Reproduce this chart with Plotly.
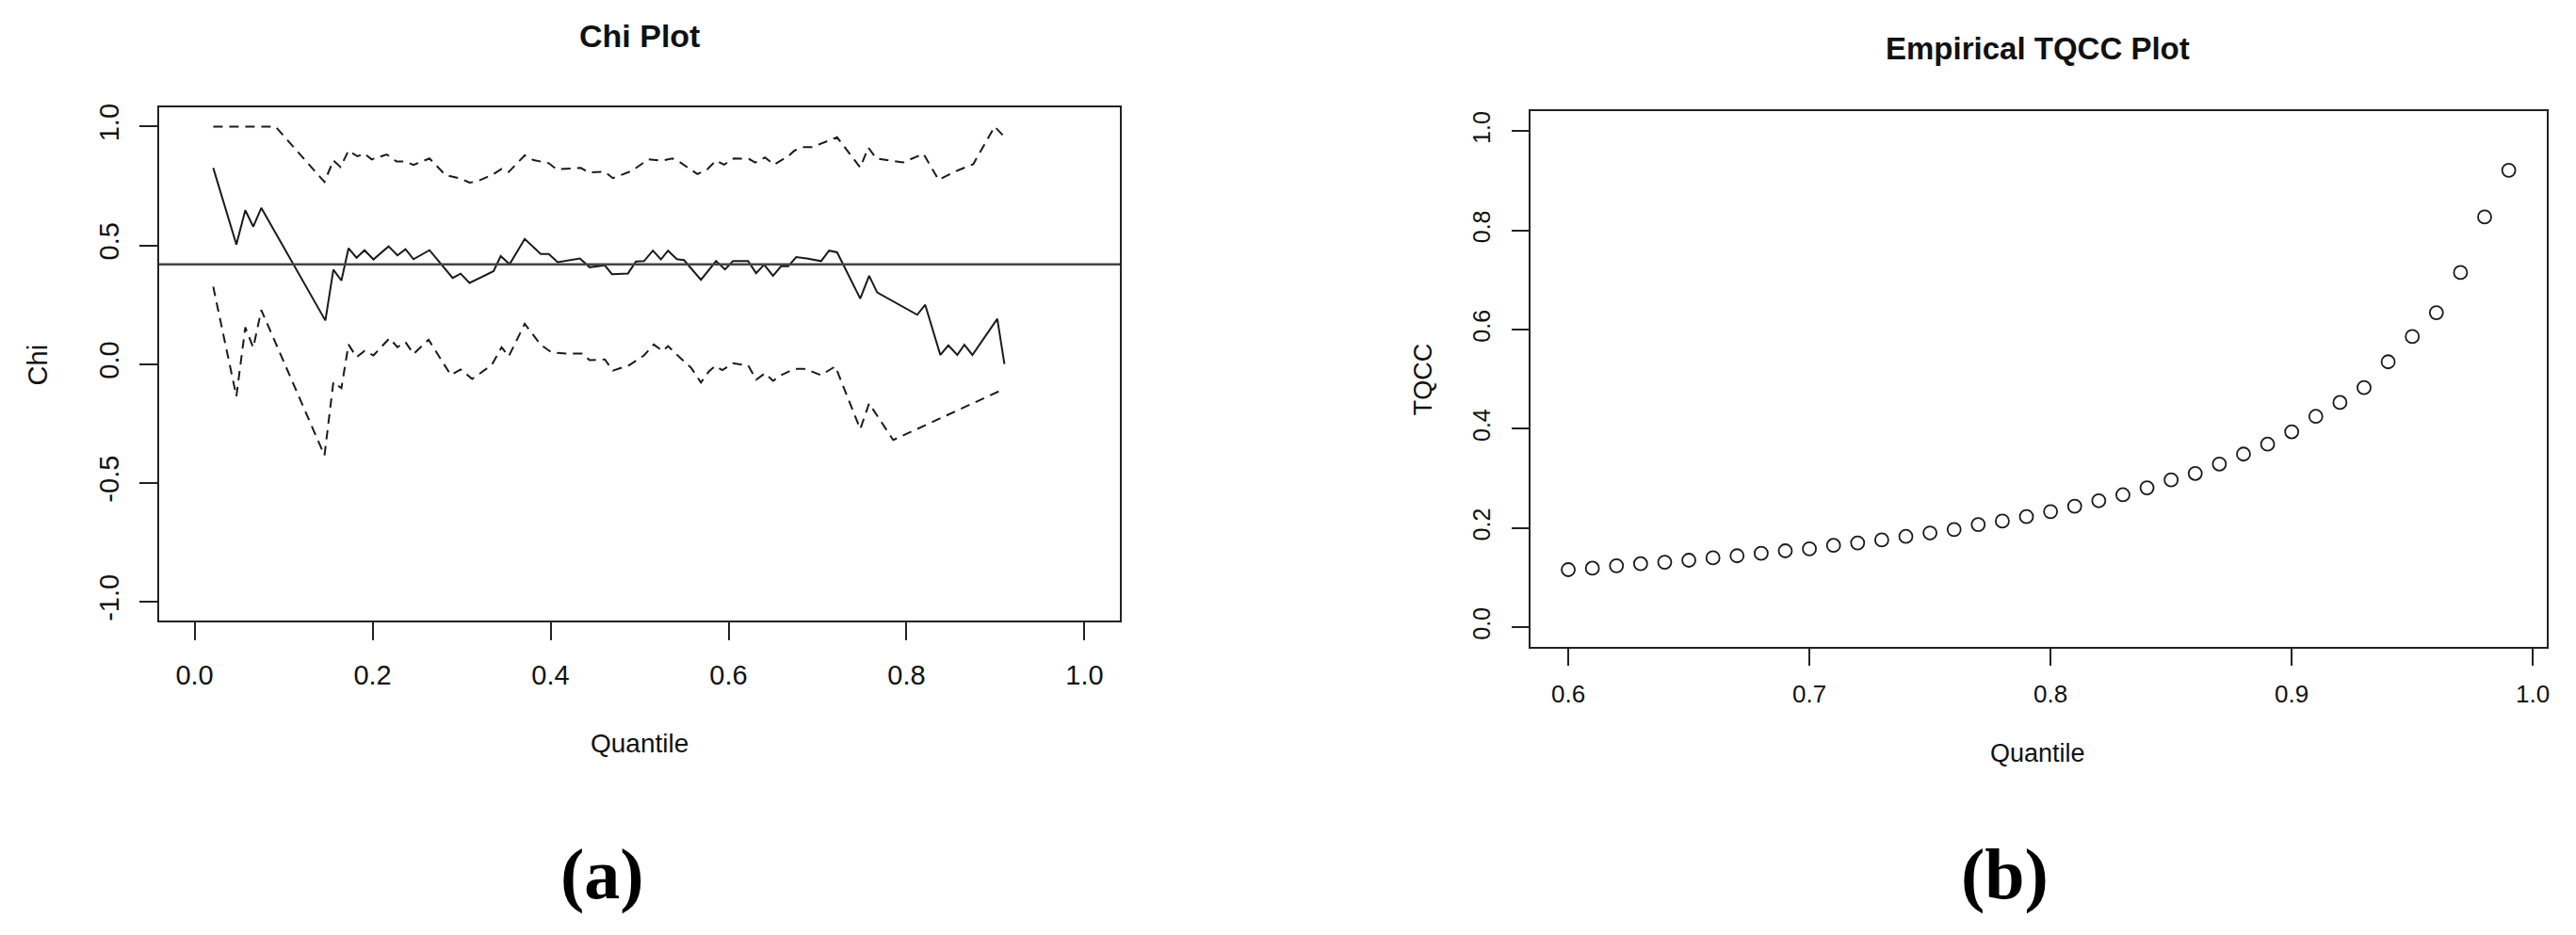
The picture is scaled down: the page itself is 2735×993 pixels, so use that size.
import plotly.graph_objects as go

# ---------------- Chi plot data ----------------
chi_x = [0.021, 0.047, 0.057, 0.066, 0.075, 0.147, 0.156, 0.165, 0.173, 0.182,
         0.191, 0.201, 0.218, 0.228, 0.237, 0.246, 0.264, 0.290, 0.299, 0.309,
         0.336, 0.344, 0.354, 0.371, 0.389, 0.398, 0.408, 0.433, 0.444, 0.461,
         0.469, 0.487, 0.496, 0.505, 0.515, 0.524, 0.532, 0.542, 0.550, 0.569,
         0.586, 0.596, 0.605, 0.622, 0.631, 0.640, 0.650, 0.659, 0.667, 0.676,
         0.688, 0.704, 0.713, 0.722, 0.748, 0.758, 0.767, 0.812, 0.821, 0.838,
         0.847, 0.857, 0.865, 0.874, 0.902, 0.910]
chi_y = [0.826, 0.504, 0.648, 0.579, 0.658, 0.184, 0.398, 0.352, 0.488, 0.448,
         0.480, 0.441, 0.496, 0.458, 0.484, 0.442, 0.480, 0.363, 0.381, 0.342,
         0.392, 0.455, 0.421, 0.527, 0.464, 0.464, 0.429, 0.445, 0.408, 0.416,
         0.379, 0.382, 0.432, 0.434, 0.478, 0.441, 0.478, 0.442, 0.438, 0.355,
         0.434, 0.399, 0.434, 0.434, 0.383, 0.419, 0.372, 0.412, 0.412, 0.451,
         0.445, 0.434, 0.478, 0.471, 0.276, 0.372, 0.302, 0.208, 0.250, 0.039,
         0.079, 0.039, 0.082, 0.039, 0.191, 0.001]

upper_x = [0.021, 0.091, 0.146, 0.156, 0.164, 0.173, 0.183, 0.191, 0.199, 0.216,
           0.227, 0.237, 0.246, 0.264, 0.282, 0.300, 0.309, 0.318, 0.336, 0.345,
           0.353, 0.371, 0.381, 0.398, 0.407, 0.425, 0.434, 0.443, 0.461, 0.470,
           0.491, 0.510, 0.526, 0.537, 0.546, 0.565, 0.576, 0.586, 0.595, 0.606,
           0.623, 0.630, 0.641, 0.651, 0.667, 0.674, 0.685, 0.694, 0.722, 0.748,
           0.757, 0.766, 0.796, 0.819, 0.836, 0.856, 0.875, 0.899, 0.910]
upper_y = [1.000, 1.000, 0.767, 0.858, 0.830, 0.899, 0.875, 0.886, 0.862, 0.883,
           0.853, 0.853, 0.839, 0.866, 0.796, 0.780, 0.764, 0.770, 0.800, 0.822,
           0.809, 0.879, 0.859, 0.846, 0.820, 0.824, 0.826, 0.807, 0.810, 0.783,
           0.813, 0.862, 0.857, 0.866, 0.849, 0.800, 0.820, 0.857, 0.840, 0.866,
           0.864, 0.849, 0.870, 0.840, 0.875, 0.899, 0.914, 0.914, 0.955, 0.828,
           0.912, 0.866, 0.849, 0.886, 0.776, 0.813, 0.842, 1.000, 0.957]

lower_x = [0.021, 0.047, 0.057, 0.066, 0.075, 0.146, 0.156, 0.165, 0.173, 0.182,
           0.191, 0.201, 0.219, 0.228, 0.237, 0.246, 0.263, 0.288, 0.299, 0.312,
           0.334, 0.345, 0.353, 0.371, 0.389, 0.401, 0.418, 0.435, 0.444, 0.461,
           0.470, 0.488, 0.505, 0.516, 0.526, 0.532, 0.544, 0.558, 0.569, 0.578,
           0.585, 0.593, 0.605, 0.622, 0.631, 0.641, 0.650, 0.659, 0.674, 0.685,
           0.695, 0.704, 0.720, 0.748, 0.758, 0.785, 0.905]
lower_y = [0.326, -0.135, 0.155, 0.070, 0.228, -0.384, -0.075, -0.101, 0.083, 0.030,
           0.056, 0.037, 0.109, 0.072, 0.093, 0.043, 0.103, -0.046, -0.022, -0.062,
           -0.003, 0.071, 0.033, 0.170, 0.082, 0.050, 0.045, 0.045, 0.017, 0.020,
           -0.027, -0.005, 0.037, 0.083, 0.055, 0.076, 0.033, -0.015, -0.077, -0.030,
           -0.007, -0.025, 0.004, -0.005, -0.065, -0.038, -0.070, -0.046, -0.020, -0.020,
           -0.033, -0.046, -0.009, -0.273, -0.165, -0.319, -0.112]

chi_bar = 0.42

chi_xticks = [0.0, 0.2, 0.4, 0.6, 0.8, 1.0]
chi_xticklabels = ["0.0", "0.2", "0.4", "0.6", "0.8", "1.0"]
chi_yticks = [-1.0, -0.5, 0.0, 0.5, 1.0]
chi_yticklabels = ["-1.0", "-0.5", "0.0", "0.5", "1.0"]

# ---------------- TQCC data ----------------
tq_x = [0.60, 0.61, 0.62, 0.63, 0.64, 0.65, 0.66, 0.67, 0.68, 0.69,
        0.70, 0.71, 0.72, 0.73, 0.74, 0.75, 0.76, 0.77, 0.78, 0.79,
        0.80, 0.81, 0.82, 0.83, 0.84, 0.85, 0.86, 0.87, 0.88, 0.89,
        0.90, 0.91, 0.92, 0.93, 0.94, 0.95, 0.96, 0.97, 0.98, 0.99]
tq_y = [0.116, 0.119, 0.124, 0.128, 0.131, 0.135, 0.140, 0.144, 0.149, 0.154,
        0.158, 0.165, 0.170, 0.176, 0.183, 0.190, 0.197, 0.207, 0.214, 0.223,
        0.233, 0.244, 0.255, 0.267, 0.281, 0.297, 0.310, 0.329, 0.349, 0.369,
        0.394, 0.425, 0.453, 0.483, 0.535, 0.586, 0.634, 0.715, 0.827, 0.921]

tq_xticks = [0.6, 0.7, 0.8, 0.9, 1.0]
tq_xticklabels = ["0.6", "0.7", "0.8", "0.9", "1.0"]
tq_yticks = [0.0, 0.2, 0.4, 0.6, 0.8, 1.0]
tq_yticklabels = ["0.0", "0.2", "0.4", "0.6", "0.8", "1.0"]

# ---------------- Layout geometry ----------------
PAGE_W, PAGE_H = 2735, 993
BODY_MARGIN = 8  # default page body margin around the plot div
W, H = PAGE_W - 2 * BODY_MARGIN, PAGE_H - 2 * BODY_MARGIN
FONT = "Liberation Sans, Arial, Helvetica, sans-serif"
SERIF = "Liberation Serif, Times New Roman, serif"
INK = "#1a1a1a"


def px_x(p):
    # page pixel x -> paper fraction
    return (p - BODY_MARGIN) / W


def px_y(p):
    # page pixel y (from top) -> paper fraction (from bottom)
    return (H - (p - BODY_MARGIN)) / H


fig = go.Figure()

# Chi plot traces
fig.add_trace(go.Scatter(x=upper_x, y=upper_y, mode="lines", xaxis="x", yaxis="y",
                         line=dict(color=INK, width=2, dash="10px,7px"), showlegend=False))
fig.add_trace(go.Scatter(x=lower_x, y=lower_y, mode="lines", xaxis="x", yaxis="y",
                         line=dict(color=INK, width=2, dash="10px,7px"), showlegend=False))
fig.add_trace(go.Scatter(x=chi_x, y=chi_y, mode="lines", xaxis="x", yaxis="y",
                         line=dict(color=INK, width=2), showlegend=False))

# TQCC trace
fig.add_trace(go.Scatter(x=tq_x, y=tq_y, mode="markers", xaxis="x2", yaxis="y2",
                         marker=dict(symbol="circle-open", size=14, color=INK,
                                     line=dict(width=1.8, color=INK)),
                         showlegend=False))

axis_common = dict(showgrid=False, zeroline=False, showline=True, mirror=True,
                   linecolor="#222222", linewidth=2, ticks="outside",
                   tickcolor="#222222", tickwidth=2)

fig.update_layout(
    width=W, height=H, autosize=False,
    margin=dict(l=0, r=0, t=0, b=0),
    paper_bgcolor="white", plot_bgcolor="white",
    xaxis=dict(domain=[px_x(169), px_x(1191)], range=[-0.04, 1.04], anchor="y",
               tickvals=chi_xticks, ticktext=chi_xticklabels, ticklen=19,
               ticklabelstandoff=12,
               tickfont=dict(family=FONT, size=29, color="#111"), **axis_common),
    yaxis=dict(domain=[px_y(658), px_y(110.7)], range=[-1.08, 1.08], anchor="x",
               tickvals=chi_yticks, ticktext=chi_yticklabels, ticklen=19,
               tickangle=-90, ticklabelstandoff=10,
               tickfont=dict(family=FONT, size=29, color="#111"), **axis_common),
    xaxis2=dict(domain=[px_x(1627.5), px_x(2707.5)], range=[0.5844, 1.0056], anchor="y2",
                tickvals=tq_xticks, ticktext=tq_xticklabels, ticklen=18,
                ticklabelstandoff=8,
                tickfont=dict(family=FONT, size=26, color="#111"), **axis_common),
    yaxis2=dict(domain=[px_y(686), px_y(114.6)], range=[-0.04, 1.04], anchor="x2",
                tickvals=tq_yticks, ticktext=tq_yticklabels, ticklen=18,
                tickangle=-90, ticklabelstandoff=13,
                tickfont=dict(family=FONT, size=25, color="#111"), **axis_common),
)

# horizontal reference line (abline)
fig.add_shape(type="line", xref="x domain", yref="y", x0=0, x1=1, y0=chi_bar, y1=chi_bar,
              line=dict(color="#444444", width=2.5))

ann = []
ann.append(dict(text="<b>Chi Plot</b>", x=px_x(680), y=px_y(34),
                font=dict(family=FONT, size=34, color="#111")))
ann.append(dict(text="<b>Empirical TQCC Plot</b>", x=px_x(2167), y=px_y(48),
                font=dict(family=FONT, size=33, color="#111")))
ann.append(dict(text="Quantile", x=px_x(680), y=px_y(789),
                font=dict(family=FONT, size=28, color="#111")))
ann.append(dict(text="Quantile", x=px_x(2167), y=px_y(799),
                font=dict(family=FONT, size=27, color="#111")))
ann.append(dict(text="Chi", x=px_x(41), y=px_y(385), textangle=-90,
                font=dict(family=FONT, size=29, color="#111")))
ann.append(dict(text="TQCC", x=px_x(1514), y=px_y(400), textangle=-90,
                font=dict(family=FONT, size=27, color="#111")))
ann.append(dict(text="<b>(a)</b>", x=px_x(640), y=px_y(928),
                font=dict(family=SERIF, size=76, color="#000")))
ann.append(dict(text="<b>(b)</b>", x=px_x(2132), y=px_y(928),
                font=dict(family=SERIF, size=76, color="#000")))
for a in ann:
    a.update(xref="paper", yref="paper", xanchor="center", yanchor="middle", showarrow=False)
fig.update_layout(annotations=ann)

fig.write_html("out.html")
